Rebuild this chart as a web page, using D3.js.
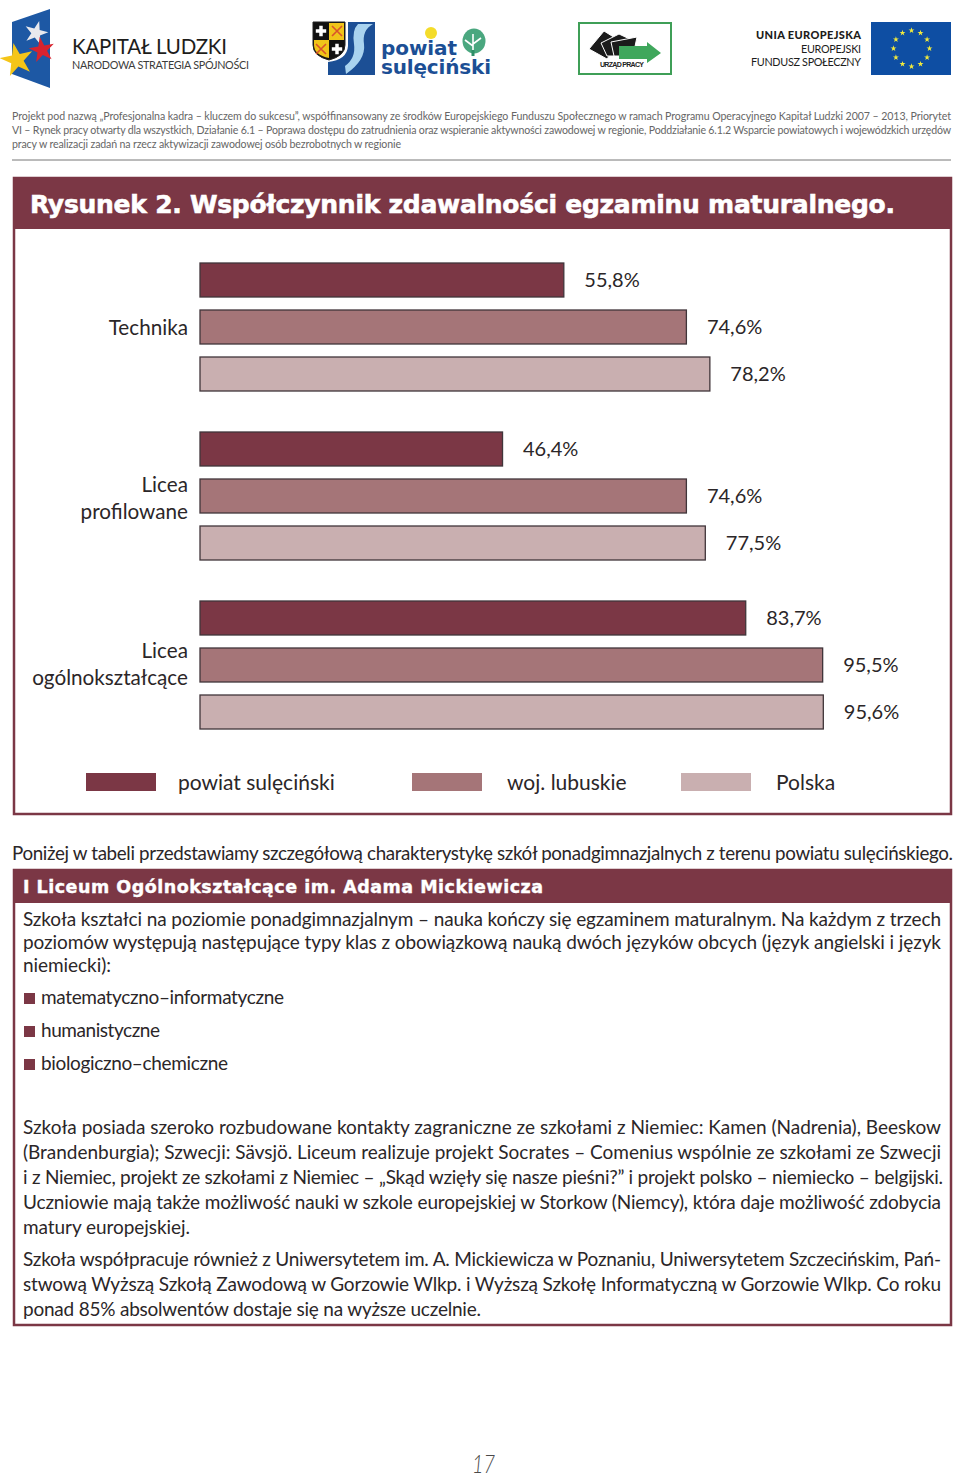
<!DOCTYPE html>
<html lang="pl"><head><meta charset="utf-8">
<script src="https://cdn.jsdelivr.net/npm/d3@7"></script>
<style>html,body{margin:0;padding:0;background:#fff}svg{display:block}text{font-family:Lato,"Noto Sans",sans-serif}</style>
</head><body><div id="c"></div>
<script>
const categories=["Technika","Licea profilowane","Licea ogólnokształcące"];
const categoryLines=[["Technika"],["Licea","profilowane"],["Licea","ogólnokształcące"]];
const seriesNames=["powiat sulęciński","woj. lubuskie","Polska"];
const seriesColors=["#7b3745","#a57578","#c9afb0"];
const powiat=[55.8,46.4,83.7];
const lubuskie=[74.6,74.6,95.5];
const polska=[78.2,77.5,95.6];
const seriesValues=[powiat,lubuskie,polska];

const plum="#7b3745",ink="#2b2628",heavy='"DejaVu Sans",sans-serif';
const svg=d3.select("#c").append("svg").attr("width",960).attr("height",1478);
function line(t,x,y,w,size,opt={}){
  const e=svg.append("text").attr("x",x).attr("y",y).attr("font-size",size)
    .attr("fill",opt.fill||ink).attr("font-weight",opt.weight||400).text(t);
  if(opt.anchor)e.attr("text-anchor",opt.anchor);
  if(opt.italic)e.attr("font-style","italic");
  if(opt.family)e.style("font-family",opt.family);
  if(opt.stroke)e.attr("stroke",opt.fill).attr("stroke-width",opt.stroke);
  if(w){e.attr("textLength",w).attr("lengthAdjust",opt.adjust||"spacing");}
  return e;
}
/* ---------- logos ---------- */
svg.append("polygon").attr("points","12,22 50,9 50,88 12,74").attr("fill","#1d58a4");
function star(cx,cy,area,fill,rot=0){
  svg.append("path").attr("d",d3.symbol(d3.symbolStar,area)()).attr("fill",fill)
    .attr("transform",`translate(${cx},${cy}) rotate(${rot})`);
}
star(36,33,170,"#e9e9ee",15);
star(42,50,200,"#d8232e",-10);
star(17,60,340,"#f5c518",-12);
line("KAPITAŁ LUDZKI",72,54,155,20.5,{fill:"#1d1d1b"});
line("NARODOWA STRATEGIA SPÓJNOŚCI",72,69,177,10.8,{fill:"#3c3c3b"});

svg.append("path").attr("d","M313,22H345V45Q345,56 329,60Q313,56 313,45Z").attr("fill","#111").attr("stroke","#222");
svg.append("rect").attr("x",329).attr("y",23).attr("width",15).attr("height",17).attr("fill","#f0c419");
svg.append("path").attr("d","M314,40H329V58Q314,55 314,45Z").attr("fill","#f0c419");
[[321,31],[337,49]].forEach(p=>svg.append("path").attr("d",d3.symbol(d3.symbolCross,60)()).attr("transform",`translate(${p[0]},${p[1]})`).attr("fill","#fff"));
[[337,31],[321,49]].forEach(p=>svg.append("path").attr("d","M-5,-5L5,5M5,-5L-5,5").attr("transform",`translate(${p[0]},${p[1]})`).attr("stroke","#d9542b").attr("stroke-width",1.6));
svg.append("path").attr("d","M328,75V62Q347,60 348,46V22H375V75Z").attr("fill","#1c4f95");
svg.append("path").attr("d","M358,24H373Q362,30 364,44Q366,60 346,74L345,66Q356,58 354,44Q352,30 358,24Z").attr("fill","#a9d3ef");
line("powiat",381,55,76,20,{fill:"#1c4f95",weight:700,family:heavy});
line("sulęciński",381,74,110,20,{fill:"#1c4f95",weight:700,family:heavy});
svg.append("circle").attr("cx",431).attr("cy",33).attr("r",6).attr("fill","#f4dc2a");
svg.append("ellipse").attr("cx",474).attr("cy",41).attr("rx",11.5).attr("ry",12.5).attr("fill","#4aa77f");
svg.append("path").attr("d","M473,55V34M473,46L465,40M473,44L481,38").attr("stroke","#fff").attr("stroke-width",1.6).attr("fill","none");
svg.append("rect").attr("x",471.5).attr("y",50).attr("width",3).attr("height",6).attr("fill","#2e8f68");

svg.append("rect").attr("x",579).attr("y",23).attr("width",92).attr("height",51).attr("fill","#fff").attr("stroke","#3f9f57").attr("stroke-width",2);
[[589,49,"M0,0L15,-18L31,-8L18,10Z"],[601,51,"M0,-8L18,-17L33,-10L24,5L6,5Z"],[611,51,"M0,-9L26,-14L22,5L3,5Z"]].forEach(d=>{
  svg.append("path").attr("d",d[2]).attr("transform",`translate(${d[0]},${d[1]})`).attr("fill","#1b1b1b").attr("stroke","#fff").attr("stroke-width",1);});
svg.append("path").attr("d","M619,46H647V42L661,53L647,63V59H619Z").attr("fill","#3fa75c");
line("URZĄD PRACY",600,67,44,7,{fill:"#222",weight:700,family:'"Liberation Sans",sans-serif'});

line("UNIA EUROPEJSKA",861,39,105,11,{anchor:"end",fill:"#1d1d1b",weight:900});
line("EUROPEJSKI",861,53,60,10.8,{anchor:"end",fill:"#1d1d1b"});
line("FUNDUSZ SPOŁECZNY",861,66,110,10.8,{anchor:"end",fill:"#1d1d1b"});
svg.append("rect").attr("x",871).attr("y",22).attr("width",80).attr("height",53).attr("fill","#0e4ea3");
d3.range(12).forEach(i=>{const a=i*Math.PI/6;star(911.5+18*Math.sin(a),48.5-18*Math.cos(a),11,"#f2ea3c");});

/* ---------- header text ---------- */
const hdr={fill:"#666",weight:400};
line("Projekt pod nazwą „Profesjonalna kadra – kluczem do sukcesu”, współfinansowany ze środków Europejskiego Funduszu Społecznego w ramach Programu Operacyjnego Kapitał Ludzki 2007 – 2013, Priorytet",12,120,939,10.6,hdr);
line("VI – Rynek pracy otwarty dla wszystkich, Działanie 6.1 – Poprawa dostępu do zatrudnienia oraz wspieranie aktywności zawodowej w regionie, Poddziałanie 6.1.2 Wsparcie powiatowych i wojewódzkich urzędów",12,134,939,10.6,hdr);
line("pracy w realizacji zadań na rzecz aktywizacji zawodowej osób bezrobotnych w regionie",12,148,389,10.6,hdr);
svg.append("line").attr("x1",12).attr("x2",951).attr("y1",160).attr("y2",160).attr("stroke","#777").attr("stroke-width",1);

/* ---------- chart frame ---------- */
svg.append("rect").attr("x",14).attr("y",178).attr("width",937).attr("height",636).attr("fill","none").attr("stroke",plum).attr("stroke-width",2.5);
svg.append("rect").attr("x",13).attr("y",177).attr("width",939).attr("height",52).attr("fill",plum);
line("Rysunek 2. Współczynnik zdawalności egzaminu maturalnego.",30,213,865,25,{fill:"#fff",weight:700,family:heavy,stroke:0.6});

/* ---------- chart ---------- */
const x=d3.scaleLinear().domain([0,100]).range([200,852]);
const y0=d3.scaleBand().domain(categories).range([263,729]).paddingInner(41/169).paddingOuter(0);
const y1=d3.scaleBand().domain(seriesNames).range([0,y0.bandwidth()]).paddingInner(13/47).paddingOuter(0);
const g=svg.selectAll("g.cat").data(categories).join("g").attr("class","cat")
  .attr("transform",d=>`translate(0,${y0(d)})`);
const rows=g.selectAll("g.bar").data((d,i)=>seriesNames.map((s,j)=>({s,j,v:seriesValues[j][i]}))).join("g").attr("class","bar");
rows.append("rect").attr("x",x(0)).attr("y",d=>y1(d.s)).attr("width",d=>x(d.v)-x(0)).attr("height",y1.bandwidth())
  .attr("fill",d=>seriesColors[d.j]).attr("stroke","#40353a").attr("stroke-width",1.3);
rows.append("text").attr("x",d=>x(d.v)+20.5).attr("y",d=>y1(d.s)+y1.bandwidth()/2).attr("dy","0.36em")
  .attr("font-size",20).attr("fill",ink).text(d=>d.v.toFixed(1).replace(".",",")+"%");
const labelDy=[8,9.5,6.5];
categories.forEach((c,i)=>{
  const ls=categoryLines[i],cy=y0(c)+y0.bandwidth()/2;
  ls.forEach((t,k)=>line(t,188,cy+labelDy[i]+(k-(ls.length-1)/2)*27,null,20.7,{anchor:"end"}));
});
/* legend */
const legendX=d3.scaleOrdinal().domain(seriesNames).range([86,412,681]);
const legendTextX=d3.scaleOrdinal().domain(seriesNames).range([178,507,776]);
seriesNames.forEach((s,i)=>{
  svg.append("rect").attr("x",legendX(s)).attr("y",773).attr("width",70).attr("height",18).attr("fill",seriesColors[i]);
  line(s,legendTextX(s),789.5,null,21);
});

/* ---------- text below ---------- */
line("Poniżej w tabeli przedstawiamy szczegółową charakterystykę szkół ponadgimnazjalnych z terenu powiatu sulęcińskiego.",12,860,941,18.8);
svg.append("rect").attr("x",14).attr("y",870).attr("width",937).attr("height",455).attr("fill","none").attr("stroke",plum).attr("stroke-width",2.5);
svg.append("rect").attr("x",13).attr("y",869).attr("width",939).attr("height",34).attr("fill",plum);
line("I Liceum Ogólnokształcące im. Adama Mickiewicza",23,893,520,17.5,{fill:"#fff",weight:700,family:heavy,stroke:0.4});

const bodyLines=[
["Szkoła kształci na poziomie ponadgimnazjalnym – nauka kończy się egzaminem maturalnym. Na każdym z trzech",23,926,918],
["poziomów występują następujące typy klas z obowiązkową nauką dwóch języków obcych (język angielski i język",23,949,918],
["niemiecki):",23,972,88],
["matematyczno–informatyczne",41,1004,243],
["humanistyczne",41,1037,119],
["biologiczno–chemiczne",41,1070,187],
["Szkoła posiada szeroko rozbudowane kontakty zagraniczne ze szkołami z Niemiec: Kamen (Nadrenia), Beeskow",23,1134,918],
["(Brandenburgia); Szwecji: Sävsjö. Liceum realizuje projekt Socrates – Comenius wspólnie ze szkołami ze Szwecji",23,1159,918],
["i z Niemiec, projekt ze szkołami z Niemiec – „Skąd wzięły się nasze pieśni?” i projekt polsko – niemiecko – belgijski.",23,1184,920],
["Uczniowie mają także możliwość nauki w szkole europejskiej w Storkow (Niemcy), która daje możliwość zdobycia",23,1209,918],
["matury europejskiej.",23,1234,167],
["Szkoła współpracuje również z Uniwersytetem im. A. Mickiewicza w Poznaniu, Uniwersytetem Szczecińskim, Pań-",23,1265.5,918],
["stwową Wyższą Szkołą Zawodową w Gorzowie Wlkp. i Wyższą Szkołę Informatyczną w Gorzowie Wlkp. Co roku",23,1290.5,918],
["ponad 85% absolwentów dostaje się na wyższe uczelnie.",23,1315.5,458]
];
bodyLines.forEach(l=>line(l[0],l[1],l[2],l[3],19));
[993,1026,1059].forEach(yy=>svg.append("rect").attr("x",24).attr("y",yy).attr("width",11).attr("height",11).attr("fill",plum));

line("17",472,1472.5,23,26,{italic:true,fill:"#4a4a4a",adjust:"spacingAndGlyphs"}).attr("font-weight",300);
</script></body></html>
